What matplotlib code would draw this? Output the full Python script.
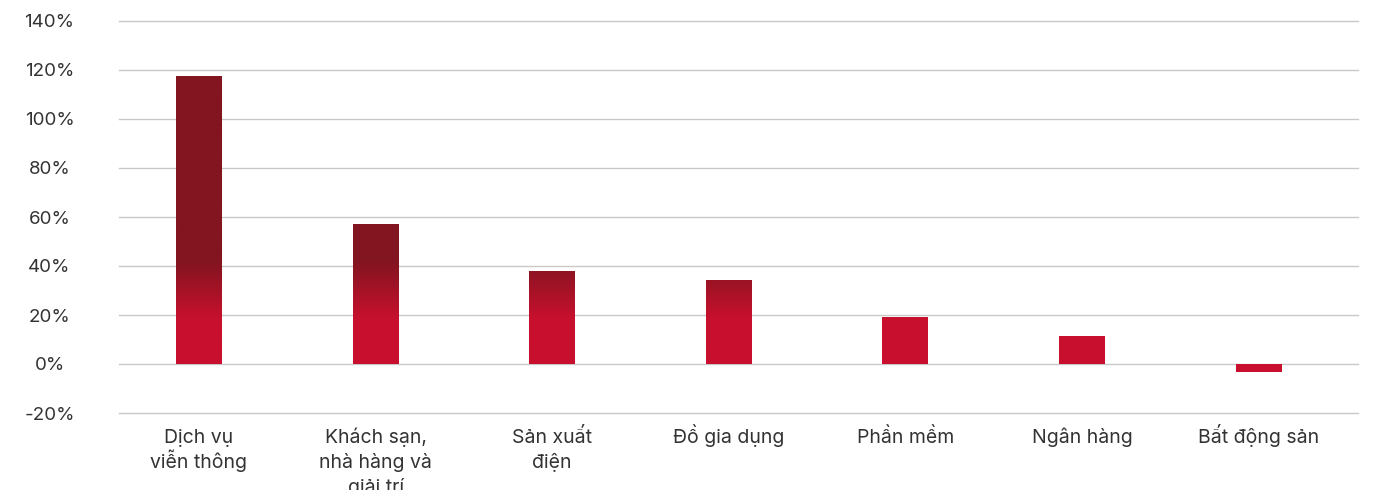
import numpy as np
import matplotlib
matplotlib.use("Agg")
from matplotlib import pyplot as plt
from matplotlib.colors import LinearSegmentedColormap

categories = ["Dịch vụ\nviễn thông", "Khách sạn,\nnhà hàng và\ngiải trí", "Sản xuất\nđiện",
              "Đồ gia dụng", "Phần mềm", "Ngân hàng", "Bất động sản"]
values = [117.5, 57.0, 38.0, 34.3, 19.2, 11.4, -3.3]
yticks = [-20, 0, 20, 40, 60, 80, 100, 120, 140]

dark = "#821520"
red = "#C8102E"
text_color = "#333333"

plt.rcParams["font.family"] = ["Inter", "DejaVu Sans"]

fig = plt.figure(figsize=(13.79, 4.90), dpi=100)
ax = fig.add_axes([119 / 1379, 1 - 413 / 490, (1358 - 119) / 1379, (413 - 21) / 490])

x = np.arange(len(categories))
bars = ax.bar(x, values, width=0.26, color="none", zorder=3)

# vertical gradient in data space: red below ~18%, dark red above ~42%
ylo, yhi = -20, 140
xlo, xhi = -0.453, 6.563
grad_y = np.linspace(ylo, yhi, 400)
t = np.clip((grad_y - 18) / (42 - 18), 0, 1)
cmap = LinearSegmentedColormap.from_list("rg", [red, dark])
img = t.reshape(-1, 1)
for b in bars:
    im = ax.imshow(img, cmap=cmap, vmin=0, vmax=1, aspect="auto", origin="lower",
                   extent=[xlo, xhi, ylo, yhi], zorder=3, interpolation="bilinear")
    im.set_clip_path(b)

ax.set_xlim(xlo, xhi)
ax.set_ylim(ylo, yhi)
ax.set_yticks(yticks)
ax.set_yticklabels([f"{v}%" for v in yticks], fontsize=13.5, color=text_color)
for lbl in ax.get_yticklabels():
    lbl.set_horizontalalignment("center")
ax.tick_params(axis="y", length=0, pad=50)

# category labels, one text per line so every first line shares a baseline
ax.set_xticks([])
for i, cat in enumerate(categories):
    for j, line in enumerate(cat.split("\n")):
        ax.annotate(line, xy=(x[i], 0), xycoords=("data", "axes fraction"),
                    xytext=(0, -21.6 - 18 * j), textcoords="offset points",
                    ha="center", va="baseline", fontsize=14, color=text_color,
                    annotation_clip=False)

for s in ax.spines.values():
    s.set_visible(False)
ax.grid(axis="y", color="#c8c8c8", linewidth=1, zorder=0)
for gl in ax.get_ygridlines():
    gl.set_clip_on(False)
ax.set_axisbelow(True)

fig.savefig("out.png", dpi=100)
